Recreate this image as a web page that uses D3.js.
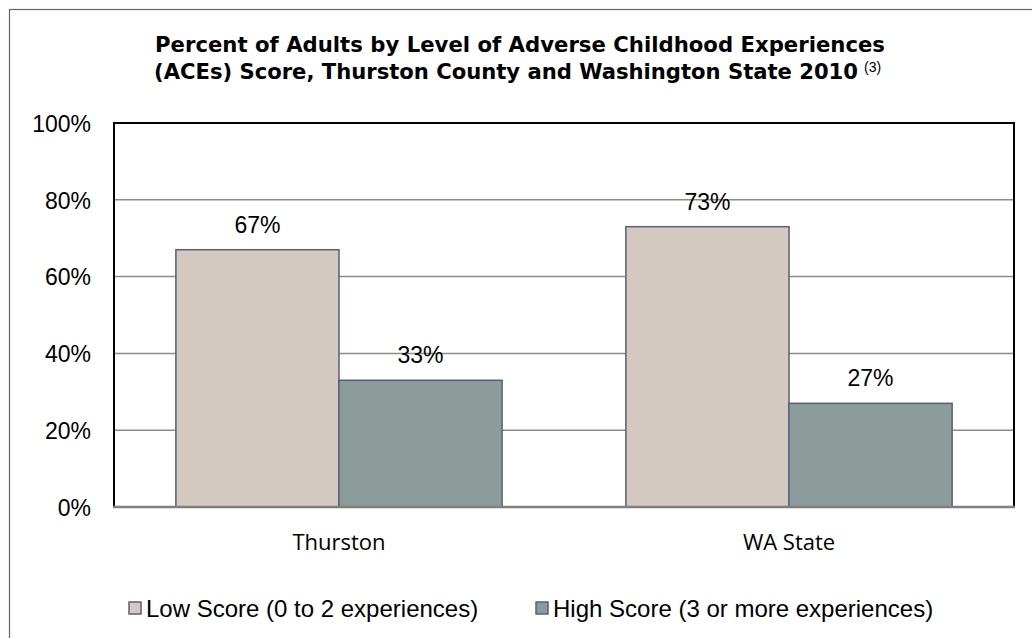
<!DOCTYPE html>
<html><head><meta charset="utf-8">
<script src="https://cdn.jsdelivr.net/npm/d3@7"></script>
<style>body{margin:0;background:#fff}svg{display:block}</style>
</head><body>
<svg id="c" width="1032" height="638"></svg>
<script>
const categories = ["Thurston", "WA State"];
const seriesNames = ["Low Score (0 to 2 experiences)", "High Score (3 or more experiences)"];
const lowScore = [67, 73];
const highScore = [33, 27];
const yTicks = [0, 20, 40, 60, 80, 100];
const titleLines = ["Percent of Adults by Level of Adverse Childhood Experiences", "(ACEs) Score,  Thurston County and Washington State 2010"];
const titleNote = "(3)";
const colors = ["#d3c9c0", "#8c9c9a"];

const svg = d3.select("#c");
// outer chart border
svg.append("rect").attr("x", 9.5).attr("y", 9.5).attr("width", 1040).attr("height", 660)
  .attr("fill", "none").attr("stroke", "#5d6479").attr("stroke-width", 1.2);

const L = 114, R = 1014, T = 123, B = 507;
const y = d3.scaleLinear().domain([0, 100]).range([B, T]);
const x0 = d3.scaleBand().domain(categories).range([L, R]).paddingInner(0.275).paddingOuter(0.1375);
const x1 = d3.scaleBand().domain([0, 1]).range([0, x0.bandwidth()]);

// gridlines
svg.append("g").selectAll("line").data(yTicks.filter(d => d > 0 && d < 100)).join("line")
  .attr("x1", L).attr("x2", R).attr("y1", d => y(d)).attr("y2", d => y(d))
  .attr("stroke", "#8c8c8c").attr("stroke-width", 1.5);

// y axis labels
const yAxis = d3.axisLeft(y).tickValues(yTicks).tickFormat(d => d + "%").tickSize(0).tickPadding(23);
const ya = svg.append("g").attr("transform", `translate(${L},0)`).call(yAxis);
ya.select(".domain").remove();
ya.selectAll("text").attr("font-family", "Liberation Sans, Arial, sans-serif").attr("font-size", 23)
  .attr("fill", "#000").attr("dy", "0.36em");

// bars
const data = categories.map((c, i) => ({c, vals: [lowScore[i], highScore[i]]}));
const g = svg.append("g").selectAll("g").data(data).join("g")
  .attr("transform", d => `translate(${x0(d.c)},0)`);
g.selectAll("rect").data(d => d.vals.map((v, k) => ({v, k}))).join("rect")
  .attr("x", d => x1(d.k)).attr("width", x1.bandwidth())
  .attr("y", d => y(d.v)).attr("height", d => B - y(d.v))
  .attr("fill", d => colors[d.k]).attr("stroke", "#5a5f78").attr("stroke-width", 1.5);
g.selectAll("text").data(d => d.vals.map((v, k) => ({v, k}))).join("text")
  .attr("x", d => x1(d.k) + x1.bandwidth() / 2).attr("y", d => y(d.v) - 17)
  .attr("text-anchor", "middle").attr("font-family", "Liberation Sans, Arial, sans-serif")
  .attr("font-size", 23).attr("fill", "#000").text(d => d.v + "%");

// plot frame
svg.append("path").attr("d", `M${L},${B}V${T}H${R}V${B}`).attr("fill", "none")
  .attr("stroke", "#000").attr("stroke-width", 2);
svg.append("line").attr("x1", L - 1).attr("x2", R + 1).attr("y1", B).attr("y2", B)
  .attr("stroke", "#7f7f7f").attr("stroke-width", 2.5);

// category axis
const xa = svg.append("g").attr("transform", `translate(0,${B})`)
  .call(d3.axisBottom(x0).tickSize(0).tickPadding(0));
xa.select(".domain").remove();
xa.selectAll("text").attr("font-family", "Open Sans, sans-serif").attr("font-size", 22)
  .attr("fill", "#000").attr("dy", 0).attr("y", 43);

// title
const tg = svg.append("g").attr("font-family", "DejaVu Sans, sans-serif").attr("font-weight", "bold")
  .attr("fill", "#000").style("white-space", "pre");
tg.append("text").attr("x", 155).attr("y", 52).attr("font-size", 20.5)
  .attr("textLength", 730).attr("lengthAdjust", "spacingAndGlyphs").text(titleLines[0]);
tg.append("text").attr("x", 154).attr("y", 79).attr("font-size", 20.5)
  .attr("textLength", 704).attr("lengthAdjust", "spacingAndGlyphs").text(titleLines[1]);
tg.append("text").attr("x", 864).attr("y", 72).attr("font-size", 14).attr("font-weight", "normal")
  .attr("font-family", "Liberation Sans, Arial, sans-serif").text(titleNote);

// legend
const legendX = [129, 536];
const lg = svg.append("g").selectAll("g").data(seriesNames).join("g")
  .attr("transform", (d, i) => `translate(${legendX[i]},602)`);
lg.append("rect").attr("width", 12).attr("height", 12).attr("fill", (d, i) => colors[i])
  .attr("stroke", "#5a5f78").attr("stroke-width", 1.5);
lg.append("text").attr("x", 17).attr("y", 14.5).attr("font-family", "Liberation Sans, Arial, sans-serif")
  .attr("font-size", 24).attr("fill", "#000").text(d => d);
</script>
</body></html>
